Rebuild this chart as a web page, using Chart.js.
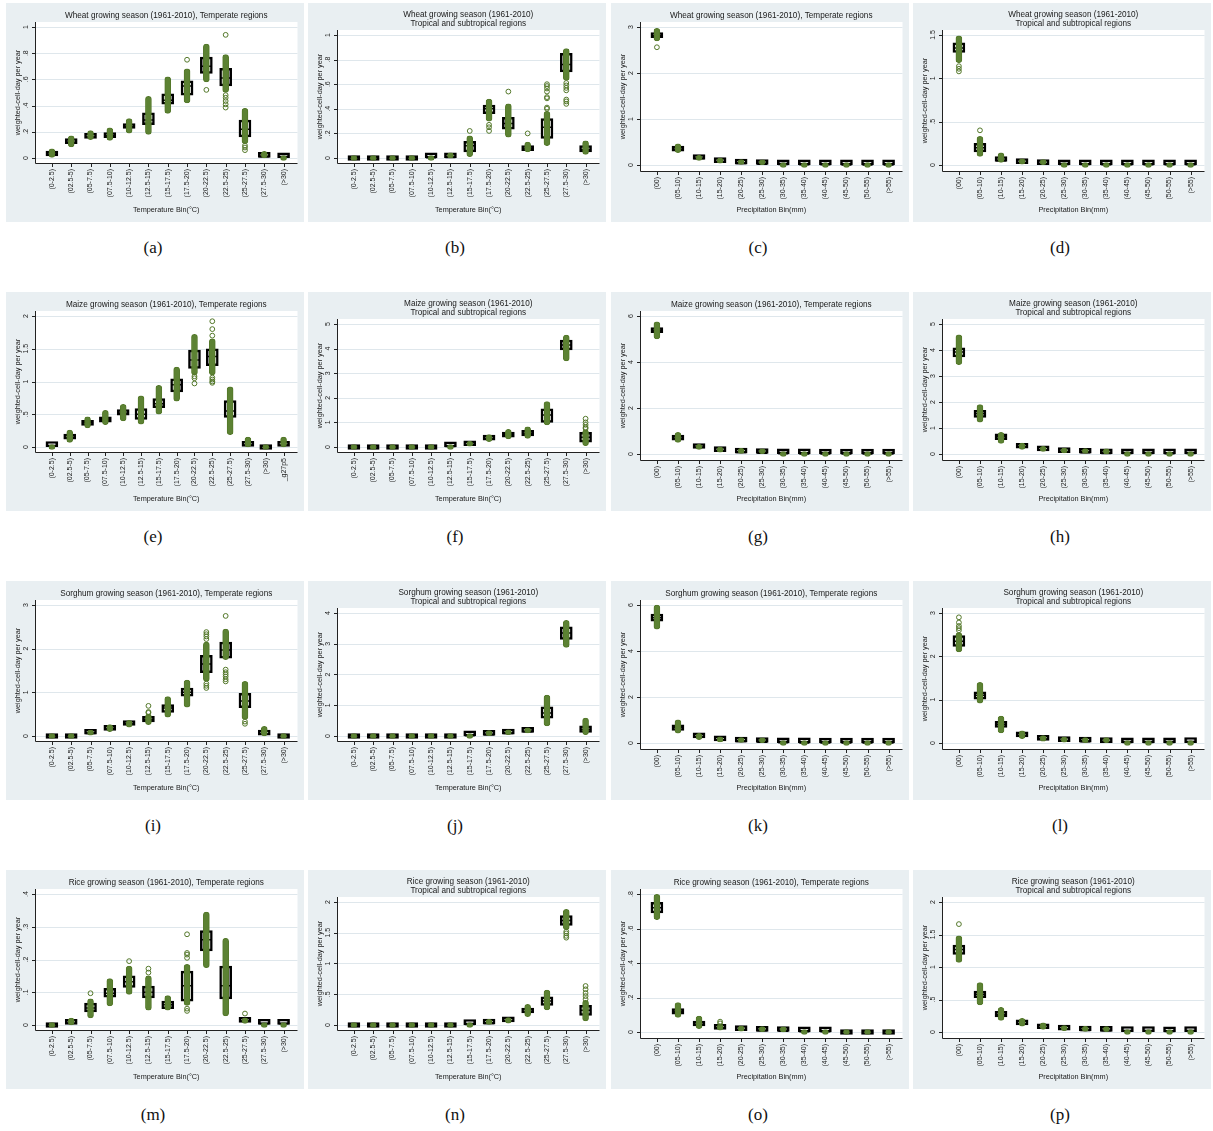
<!DOCTYPE html>
<html>
<head>
<meta charset="utf-8">
<title>Growing season bins</title>
<script src="https://cdn.jsdelivr.net/npm/chart.js@4.4.0/dist/chart.umd.min.js"></script>
<style>
  html, body { margin: 0; padding: 0; background: #fff; }
  #page { position: relative; width: 1213px; height: 1131px; overflow: hidden; }
  .panel { position: absolute; width: 298px; height: 219px; }
  .panel canvas { display: block; }
  .sub { position: absolute; width: 80px; margin-left: -40px; text-align: center;
         font: 17px "Liberation Serif", serif; color: #111; line-height: 20px; }
</style>
</head>
<body>
<div id="page"></div>
<script>
// bin labels
const tempBins = ['(0-2.5)', '(02.5-5)', '(05-7.5)', '(07.5-10)', '(10-12.5)', '(12.5-15)', '(15-17.5)',
  '(17.5-20)', '(20-22.5)', '(22.5-25)', '(25-27.5)', '(27.5-30)', '(>30)'];
const tempBinsMaize = ['(0-2.5)', '(02.5-5)', '(05-7.5)', '(07.5-10)', '(10-12.5)', '(12.5-15)', '(15-17.5)',
  '(17.5-20)', '(20-22.5)', '(22.5-25)', '(25-27.5)', '(27.5-30)', '(>30)', '_g27p5'];
const precipBins = ['(00)', '(05-10)', '(10-15)', '(15-20)', '(20-25)', '(25-30)', '(30-35)', '(35-40)',
  '(40-45)', '(45-50)', '(50-55)', '(>55)'];

// y tick labels
const ticksTo1 = ['0', '.2', '.4', '.6', '.8', '1'];
const ticksTo08 = ['0', '.2', '.4', '.6', '.8'];
const ticksTo04 = ['0', '.1', '.2', '.3', '.4'];
const ticksTo15 = ['0', '.5', '1', '1.5'];
const ticksTo2 = ['0', '.5', '1', '1.5', '2'];
const ticksTo3 = ['0', '1', '2', '3'];
const ticksTo4 = ['0', '1', '2', '3', '4'];
const ticksTo5 = ['0', '1', '2', '3', '4', '5'];
const ticksTo6 = ['0', '2', '4', '6'];

// wheat, temperature bins, temperate
const wheatTempTeQ1 = [.015, .11, .15, .155, .225, .255, .41, .48, .645, .55, .16, .005, .002];
const wheatTempTeQ3 = [.04, .135, .17, .19, .26, .345, .49, .59, .77, .685, .29, .02, .008];
const wheatTempTeMed = [.03, .12, .16, .17, .24, .29, .44, .55, .70, .61, .22, .01, .005];
const wheatTempTeLo = [.005, .085, .14, .135, .19, .18, .34, .42, .58, .50, .11, 0, 0];
const wheatTempTeHi = [.07, .17, .21, .23, .30, .47, .62, .68, .87, .79, .38, .05, .01];
const wheatTempTeOut = [[7, .75], [8, .52], [9, .94], [9, .385], [9, .41], [9, .435], [9, .46], [9, .48],
  [10, .06], [10, .08], [10, .095]];

// wheat, temperature bins, tropical
const wheatTempTrQ1 = [0, 0, 0, 0, .001, .002, .05, .36, .235, .06, .16, .70, .05];
const wheatTempTrQ3 = [.005, .005, .005, .005, .006, .01, .135, .43, .33, .09, .32, .85, .10];
const wheatTempTrMed = [.002, .002, .002, .002, .003, .005, .10, .40, .28, .08, .25, .76, .07];
const wheatTempTrLo = [0, 0, 0, 0, 0, .001, .01, .30, .17, .05, .10, .63, .03];
const wheatTempTrHi = [.005, .005, .005, .005, .007, .015, .18, .48, .44, .13, .38, .89, .14];
const wheatTempTrOut = [[6, .22], [7, .22], [7, .25], [7, .27], [8, .54], [9, .20], [10, .40], [10, .41],
  [10, .485], [10, .495], [10, .54], [10, .565], [10, .585], [10, .60], [11, .44], [11, .46], [11, .475],
  [11, .55], [11, .57], [11, .59], [11, .61]];

// wheat, precipitation bins, temperate
const wheatPrecTeQ1 = [2.77, .30, .12, .05, .02, .01, .005, .002, .001, .001, .001, .001];
const wheatPrecTeQ3 = [2.855, .40, .16, .08, .04, .02, .015, .008, .005, .004, .004, .004];
const wheatPrecTeMed = [2.81, .35, .14, .065, .03, .015, .01, .005, .003, .002, .002, .002];
const wheatPrecTeLo = [2.70, .27, .10, .04, .01, .005, 0, 0, 0, 0, 0, 0];
const wheatPrecTeHi = [2.97, .46, .19, .10, .05, .03, .02, .01, .008, .006, .005, .005];
const wheatPrecTeOut = [[0, 2.56]];

// wheat, precipitation bins, tropical
const wheatPrecTrQ1 = [1.30, .15, .04, .015, .005, .003, .002, .001, .001, .001, .001, .001];
const wheatPrecTrQ3 = [1.41, .25, .07, .03, .015, .01, .008, .005, .004, .004, .003, .003];
const wheatPrecTrMed = [1.35, .20, .05, .02, .01, .006, .005, .003, .002, .002, .002, .002];
const wheatPrecTrLo = [1.18, .10, .03, .01, .005, 0, 0, 0, 0, 0, 0, 0];
const wheatPrecTrHi = [1.49, .33, .14, .07, .03, .02, .015, .01, .008, .006, .006, .006];
const wheatPrecTrOut = [[0, 1.08], [0, 1.11], [0, 1.14], [1, .40]];

// maize, temperature bins, temperate
const maizeTempTeQ1 = [.005, .12, .33, .38, .485, .42, .60, .84, 1.20, 1.24, .45, .01, 0, .01];
const maizeTempTeQ3 = [.035, .18, .40, .46, .57, .585, .74, 1.04, 1.48, 1.50, .71, .05, .02, .05];
const maizeTempTeMed = [.02, .15, .37, .42, .52, .50, .66, .95, 1.33, 1.38, .55, .03, .01, .03];
const maizeTempTeLo = [0, .07, .29, .34, .40, .35, .50, .70, 1.10, 1.10, .19, 0, 0, 0];
const maizeTempTeHi = [.07, .26, .46, .56, .65, .78, .94, 1.22, 1.72, 1.65, .92, .15, .03, .15];
const maizeTempTeOut = [[8, .97], [8, 1.05], [8, 1.08], [9, .98], [9, 1.0], [9, 1.03], [9, 1.06],
  [9, 1.70], [9, 1.80], [9, 1.92]];

// maize, temperature bins, tropical
const maizeTempTrQ1 = [0, 0, 0, 0, 0, .002, .05, .28, .40, .45, 1.00, 3.95, .20];
const maizeTempTrQ3 = [.01, .01, .01, .01, .01, .04, .12, .42, .60, .68, 1.55, 4.35, .60];
const maizeTempTrMed = [.005, .005, .005, .005, .005, .02, .08, .36, .50, .56, 1.30, 4.15, .40];
const maizeTempTrLo = [0, 0, 0, 0, 0, 0, .03, .22, .33, .35, .90, 3.50, .05];
const maizeTempTrHi = [.02, .02, .02, .02, .02, .06, .18, .50, .72, .82, 1.85, 4.55, .70];
const maizeTempTrOut = [[12, .75], [12, .80], [12, .90], [12, 1.0], [12, 1.15]];

// maize, precipitation bins, temperate
const maizePrecTeQ1 = [5.28, .60, .24, .10, .04, .02, .01, .002, .001, .001, .001, .001];
const maizePrecTeQ3 = [5.49, .80, .33, .17, .08, .04, .02, .01, .006, .005, .004, .004];
const maizePrecTeMed = [5.38, .70, .29, .13, .06, .03, .015, .005, .003, .003, .002, .002];
const maizePrecTeLo = [5.00, .50, .20, .08, .03, .01, 0, 0, 0, 0, 0, 0];
const maizePrecTeHi = [5.75, .94, .38, .20, .10, .05, .03, .015, .01, .008, .006, .006];
const maizePrecTeOut = [];

// maize, precipitation bins, tropical
const maizePrecTrQ1 = [3.73, 1.41, .55, .22, .12, .05, .03, .01, .01, .01, .005, .01];
const maizePrecTrQ3 = [4.08, 1.68, .78, .36, .20, .11, .07, .03, .025, .02, .015, .02];
const maizePrecTrMed = [3.92, 1.55, .66, .29, .16, .08, .05, .02, .015, .015, .01, .015];
const maizePrecTrLo = [3.44, 1.22, .41, .18, .10, .04, .02, .005, 0, 0, 0, 0];
const maizePrecTrHi = [4.58, 1.90, .83, .42, .24, .14, .10, .05, .04, .03, .03, .03];
const maizePrecTrOut = [];

// sorghum, temperature bins, temperate
const sorghumTempTeQ1 = [0, 0, .04, .13, .24, .32, .54, .91, 1.45, 1.78, .65, .02, 0];
const sorghumTempTeQ3 = [.01, .02, .09, .21, .32, .45, .72, 1.10, 1.85, 2.15, .98, .08, .01];
const sorghumTempTeMed = [.005, .01, .06, .17, .28, .38, .64, 1.0, 1.65, 1.97, .80, .05, .005];
const sorghumTempTeLo = [0, 0, .02, .10, .20, .26, .43, .66, 1.25, 1.75, .38, 0, 0];
const sorghumTempTeHi = [.02, .03, .13, .26, .36, .50, .90, 1.28, 2.15, 2.45, 1.25, .22, .02];
const sorghumTempTeOut = [[5, .53], [5, .55], [5, .69], [8, 1.10], [8, 1.15], [8, 1.20], [8, 2.22],
  [8, 2.28], [8, 2.33], [8, 2.38], [9, 1.25], [9, 1.30], [9, 1.36], [9, 1.41], [9, 1.46], [9, 1.52],
  [9, 2.75], [10, .28], [10, .33]];

// sorghum, temperature bins, tropical
const sorghumTempTrQ1 = [0, 0, 0, 0, 0, 0, .002, .02, .06, .12, .58, 3.14, .12];
const sorghumTempTrQ3 = [.01, .01, .01, .01, .01, .01, .02, .05, .10, .16, .95, 3.55, .33];
const sorghumTempTrMed = [.005, .005, .005, .005, .005, .005, .01, .04, .08, .14, .75, 3.35, .22];
const sorghumTempTrLo = [0, 0, 0, 0, 0, 0, 0, .01, .04, .10, .33, 2.88, .04];
const sorghumTempTrHi = [.01, .01, .01, .01, .01, .015, .03, .07, .13, .18, 1.33, 3.76, .58];
const sorghumTempTrOut = [];

// sorghum, precipitation bins, temperate
const sorghumPrecTeQ1 = [5.30, .55, .22, .09, .04, .02, .01, .002, .001, .001, .001, .001];
const sorghumPrecTeQ3 = [5.60, .79, .35, .17, .08, .04, .02, .01, .006, .005, .004, .004];
const sorghumPrecTeMed = [5.45, .68, .28, .13, .06, .03, .015, .005, .003, .003, .002, .002];
const sorghumPrecTeLo = [4.95, .43, .15, .05, .02, .01, 0, 0, 0, 0, 0, 0];
const sorghumPrecTeHi = [6.0, 1.01, .42, .22, .11, .07, .04, .03, .01, .008, .006, .006];
const sorghumPrecTeOut = [];

// sorghum, precipitation bins, tropical
const sorghumPrecTrQ1 = [2.23, 1.01, .36, .14, .06, .03, .02, .01, .005, .005, .005, .01];
const sorghumPrecTrQ3 = [2.48, 1.18, .50, .23, .12, .08, .05, .03, .02, .02, .02, .03];
const sorghumPrecTrMed = [2.35, 1.10, .43, .18, .09, .05, .03, .02, .01, .01, .01, .02];
const sorghumPrecTrLo = [2.10, .92, .23, .10, .04, .02, .01, .01, 0, 0, 0, 0];
const sorghumPrecTrHi = [2.55, 1.40, .62, .28, .17, .11, .07, .05, .04, .04, .04, .06];
const sorghumPrecTrOut = [[0, 2.60], [0, 2.65], [0, 2.70], [0, 2.78], [0, 2.90]];

// rice, temperature bins, temperate
const riceTempTeQ1 = [0, .002, .040, .085, .115, .083, .050, .073, .226, .080, .008, .002, .002];
const riceTempTeQ3 = [.002, .010, .067, .112, .150, .119, .073, .165, .288, .180, .016, .006, .006];
const riceTempTeMed = [.001, .005, .052, .097, .132, .100, .062, .120, .260, .120, .012, .004, .004];
const riceTempTeLo = [0, 0, .022, .058, .093, .045, .045, .060, .175, .028, .005, 0, 0];
const riceTempTeHi = [.003, .021, .080, .142, .180, .150, .090, .185, .345, .265, .022, .008, .008];
const riceTempTeOut = [[2, .097], [4, .195], [5, .16], [5, .172], [7, .043], [7, .05], [7, .205],
  [7, .215], [7, .22], [7, .277], [10, .035]];

// rice, temperature bins, tropical
const riceTempTrQ1 = [0, 0, 0, 0, 0, 0, .005, .015, .05, .195, .32, 1.62, .157];
const riceTempTrQ3 = [.005, .005, .005, .005, .005, .008, .015, .04, .09, .265, .46, 1.78, .32];
const riceTempTrMed = [.002, .002, .002, .002, .002, .004, .01, .025, .07, .22, .39, 1.70, .24];
const riceTempTrLo = [0, 0, 0, 0, 0, 0, 0, .01, .03, .136, .244, 1.55, .065];
const riceTempTrHi = [.005, .005, .005, .005, .005, .01, .03, .06, .12, .336, .569, 1.88, .40];
const riceTempTrOut = [[11, 1.42], [11, 1.45], [11, 1.49], [11, 1.52], [12, .42], [12, .47], [12, .52],
  [12, .58], [12, .634]];

// rice, precipitation bins, temperate
const ricePrecTeQ1 = [.69, .103, .035, .015, .008, .004, .003, .001, .001, 0, 0, 0];
const ricePrecTeQ3 = [.752, .136, .058, .035, .02, .01, .008, .004, .004, .003, .003, .003];
const ricePrecTeMed = [.72, .12, .045, .025, .013, .007, .005, .002, .002, .001, .001, .001];
const ricePrecTeLo = [.651, .085, .02, .01, .005, .002, .001, 0, 0, 0, 0, 0];
const ricePrecTeHi = [.798, .17, .093, .045, .032, .025, .02, .012, .01, .006, .006, .006];
const ricePrecTeOut = [[3, .05], [3, .06]];

// rice, precipitation bins, tropical
const ricePrecTrQ1 = [1.195, .528, .231, .11, .05, .03, .015, .01, .005, .005, .003, .005];
const ricePrecTrQ3 = [1.338, .63, .318, .16, .10, .06, .035, .025, .02, .015, .01, .015];
const ricePrecTrMed = [1.27, .58, .27, .13, .07, .045, .025, .018, .012, .01, .006, .01];
const ricePrecTrLo = [1.07, .415, .18, .09, .04, .02, .01, .005, 0, 0, 0, 0];
const ricePrecTrHi = [1.48, .76, .38, .21, .14, .09, .06, .05, .04, .03, .03, .03];
const ricePrecTrOut = [[0, 1.66]];

const tempAxis = 'Temperature Bin(\u00B0C)';
const precAxis = 'Precipitation Bin(mm)';
const yAxisTitle = 'weighted-cell-day per year';
const temperate = crop => [crop + ' growing season (1961-2010), Temperate regions'];
const tropical = crop => [crop + ' growing season (1961-2010)', 'Tropical and subtropical regions'];

const panels = [
  { tag: '(a)', title: temperate('Wheat'), bins: tempBins, axis: tempAxis, ticks: ticksTo1,
    q1: wheatTempTeQ1, q3: wheatTempTeQ3, med: wheatTempTeMed, lo: wheatTempTeLo, hi: wheatTempTeHi, out: wheatTempTeOut },
  { tag: '(b)', title: tropical('Wheat'), bins: tempBins, axis: tempAxis, ticks: ticksTo1,
    q1: wheatTempTrQ1, q3: wheatTempTrQ3, med: wheatTempTrMed, lo: wheatTempTrLo, hi: wheatTempTrHi, out: wheatTempTrOut },
  { tag: '(c)', title: temperate('Wheat'), bins: precipBins, axis: precAxis, ticks: ticksTo3,
    q1: wheatPrecTeQ1, q3: wheatPrecTeQ3, med: wheatPrecTeMed, lo: wheatPrecTeLo, hi: wheatPrecTeHi, out: wheatPrecTeOut },
  { tag: '(d)', title: tropical('Wheat'), bins: precipBins, axis: precAxis, ticks: ticksTo15,
    q1: wheatPrecTrQ1, q3: wheatPrecTrQ3, med: wheatPrecTrMed, lo: wheatPrecTrLo, hi: wheatPrecTrHi, out: wheatPrecTrOut },
  { tag: '(e)', title: temperate('Maize'), bins: tempBinsMaize, axis: tempAxis, ticks: ticksTo2,
    q1: maizeTempTeQ1, q3: maizeTempTeQ3, med: maizeTempTeMed, lo: maizeTempTeLo, hi: maizeTempTeHi, out: maizeTempTeOut },
  { tag: '(f)', title: tropical('Maize'), bins: tempBins, axis: tempAxis, ticks: ticksTo5,
    q1: maizeTempTrQ1, q3: maizeTempTrQ3, med: maizeTempTrMed, lo: maizeTempTrLo, hi: maizeTempTrHi, out: maizeTempTrOut },
  { tag: '(g)', title: temperate('Maize'), bins: precipBins, axis: precAxis, ticks: ticksTo6,
    q1: maizePrecTeQ1, q3: maizePrecTeQ3, med: maizePrecTeMed, lo: maizePrecTeLo, hi: maizePrecTeHi, out: maizePrecTeOut },
  { tag: '(h)', title: tropical('Maize'), bins: precipBins, axis: precAxis, ticks: ticksTo5,
    q1: maizePrecTrQ1, q3: maizePrecTrQ3, med: maizePrecTrMed, lo: maizePrecTrLo, hi: maizePrecTrHi, out: maizePrecTrOut },
  { tag: '(i)', title: temperate('Sorghum'), bins: tempBins, axis: tempAxis, ticks: ticksTo3,
    q1: sorghumTempTeQ1, q3: sorghumTempTeQ3, med: sorghumTempTeMed, lo: sorghumTempTeLo, hi: sorghumTempTeHi, out: sorghumTempTeOut },
  { tag: '(j)', title: tropical('Sorghum'), bins: tempBins, axis: tempAxis, ticks: ticksTo4,
    q1: sorghumTempTrQ1, q3: sorghumTempTrQ3, med: sorghumTempTrMed, lo: sorghumTempTrLo, hi: sorghumTempTrHi, out: sorghumTempTrOut },
  { tag: '(k)', title: temperate('Sorghum'), bins: precipBins, axis: precAxis, ticks: ticksTo6,
    q1: sorghumPrecTeQ1, q3: sorghumPrecTeQ3, med: sorghumPrecTeMed, lo: sorghumPrecTeLo, hi: sorghumPrecTeHi, out: sorghumPrecTeOut },
  { tag: '(l)', title: tropical('Sorghum'), bins: precipBins, axis: precAxis, ticks: ticksTo3,
    q1: sorghumPrecTrQ1, q3: sorghumPrecTrQ3, med: sorghumPrecTrMed, lo: sorghumPrecTrLo, hi: sorghumPrecTrHi, out: sorghumPrecTrOut },
  { tag: '(m)', title: temperate('Rice'), bins: tempBins, axis: tempAxis, ticks: ticksTo04,
    q1: riceTempTeQ1, q3: riceTempTeQ3, med: riceTempTeMed, lo: riceTempTeLo, hi: riceTempTeHi, out: riceTempTeOut },
  { tag: '(n)', title: tropical('Rice'), bins: tempBins, axis: tempAxis, ticks: ticksTo2,
    q1: riceTempTrQ1, q3: riceTempTrQ3, med: riceTempTrMed, lo: riceTempTrLo, hi: riceTempTrHi, out: riceTempTrOut },
  { tag: '(o)', title: temperate('Rice'), bins: precipBins, axis: precAxis, ticks: ticksTo08,
    q1: ricePrecTeQ1, q3: ricePrecTeQ3, med: ricePrecTeMed, lo: ricePrecTeLo, hi: ricePrecTeHi, out: ricePrecTeOut },
  { tag: '(p)', title: tropical('Rice'), bins: precipBins, axis: precAxis, ticks: ticksTo2,
    q1: ricePrecTrQ1, q3: ricePrecTrQ3, med: ricePrecTrMed, lo: ricePrecTrLo, hi: ricePrecTrHi, out: ricePrecTrOut }
];

// page grid
const COL_X = [6, 308, 611, 913];
const ROW_Y = [3, 292, 581, 870];
const PANEL_W = 298, PANEL_H = 219;
const PLOT_L = 29, PLOT_R = 293;
const FIRST_BIN = 46, LAST_BIN = 279;

const PANEL_BG = '#e9eff2';
const GRID = '#dfe7ec';
const AXIS = '#222';
const TEXT = '#1a1a1a';
const GREEN = '#54782a';
const GREEN_FILL = '#5c8233';
const FONT = '"Liberation Sans", Arial, sans-serif';

Chart.defaults.font.family = FONT;

// background, grid, axes and all the Stata-style text around one panel
function framePlugin(p) {
  const tickVals = p.ticks.map(t => parseFloat(t));
  return {
    id: 'frame',
    beforeDraw(chart) {
      const { ctx, chartArea: ca, scales: { y } } = chart;
      ctx.save();
      ctx.fillStyle = PANEL_BG;
      ctx.fillRect(0, 0, chart.width, chart.height);
      ctx.fillStyle = '#fff';
      ctx.fillRect(ca.left, ca.top, ca.right - ca.left, ca.bottom - ca.top);
      ctx.strokeStyle = GRID;
      ctx.lineWidth = 1.2;
      tickVals.forEach(v => {
        const py = Math.round(y.getPixelForValue(v)) + 0.5;
        ctx.beginPath();
        ctx.moveTo(ca.left, py);
        ctx.lineTo(ca.right, py);
        ctx.stroke();
      });
      ctx.restore();
    },
    afterDraw(chart) {
      const { ctx, chartArea: ca, scales: { x, y } } = chart;
      const midX = (ca.left + ca.right) / 2;
      ctx.save();

      // axis lines and tick marks
      ctx.strokeStyle = AXIS;
      ctx.lineWidth = 1;
      ctx.beginPath();
      ctx.moveTo(ca.left + 0.5, ca.top);
      ctx.lineTo(ca.left + 0.5, ca.bottom + 0.5);
      ctx.lineTo(ca.right, ca.bottom + 0.5);
      tickVals.forEach(v => {
        const py = Math.round(y.getPixelForValue(v)) + 0.5;
        ctx.moveTo(ca.left - 3, py);
        ctx.lineTo(ca.left, py);
      });
      p.bins.forEach((b, i) => {
        const px = Math.round(x.getPixelForValue(i)) + 0.5;
        ctx.moveTo(px, ca.bottom);
        ctx.lineTo(px, ca.bottom + 4);
      });
      ctx.stroke();

      ctx.fillStyle = TEXT;

      // y tick labels, turned like the axis title
      ctx.font = '7px ' + FONT;
      ctx.textAlign = 'center';
      ctx.textBaseline = 'bottom';
      p.ticks.forEach((t, k) => {
        ctx.save();
        ctx.translate(ca.left - 5, y.getPixelForValue(tickVals[k]));
        ctx.rotate(-Math.PI / 2);
        ctx.fillText(t, 0, 0);
        ctx.restore();
      });

      // bin labels under the axis
      ctx.textAlign = 'right';
      ctx.textBaseline = 'middle';
      p.bins.forEach((b, i) => {
        ctx.save();
        ctx.translate(x.getPixelForValue(i), ca.bottom + 6);
        ctx.rotate(-Math.PI / 2);
        ctx.fillText(b, 0, 0);
        ctx.restore();
      });

      // axis titles
      ctx.font = '7.3px ' + FONT;
      ctx.textAlign = 'center';
      ctx.textBaseline = 'middle';
      ctx.save();
      ctx.translate(12, (ca.top + ca.bottom) / 2);
      ctx.rotate(-Math.PI / 2);
      ctx.fillText(yAxisTitle, 0, 0);
      ctx.restore();
      ctx.fillText(p.axis, midX, 207);

      // panel title
      ctx.font = '8.2px ' + FONT;
      if (p.title.length > 1) {
        ctx.fillText(p.title[0], midX, 12);
        ctx.fillText(p.title[1], midX, 21);
      } else {
        ctx.fillText(p.title[0], midX, 12.7);
      }
      ctx.restore();
    }
  };
}

const page = document.getElementById('page');

panels.forEach((p, k) => {
  const left = COL_X[k % 4];
  const top = ROW_Y[Math.floor(k / 4)];

  const box = document.createElement('div');
  box.className = 'panel';
  box.style.left = left + 'px';
  box.style.top = top + 'px';
  const cv = document.createElement('canvas');
  cv.width = PANEL_W;
  cv.height = PANEL_H;
  box.appendChild(cv);
  page.appendChild(box);

  const sub = document.createElement('div');
  sub.className = 'sub';
  sub.textContent = p.tag;
  sub.style.left = (left + 147) + 'px';
  sub.style.top = (top + 235) + 'px';
  page.appendChild(sub);

  // x runs over bin positions 0..n-1 with Stata-like margins on both sides
  const n = p.bins.length;
  const step = (LAST_BIN - FIRST_BIN) / (n - 1);
  const xMin = -(FIRST_BIN - PLOT_L) / step;
  const xMax = (n - 1) + (PLOT_R - LAST_BIN) / step;

  // y runs from 0 to the top tick, with a few pixels of air at each end
  const isPrecip = p.bins === precipBins;
  const plotTop = p.title.length > 1 ? 27 : 19;
  const plotBottom = isPrecip ? 168 : 160;
  const padBottom = isPrecip ? 6 : 5;
  const yTop = parseFloat(p.ticks[p.ticks.length - 1]);
  const unit = (plotBottom - plotTop - 5 - padBottom) / yTop;
  const yMin = -padBottom / unit;
  const yMax = yTop + 5 / unit;

  new Chart(cv, {
    type: 'bar',
    data: {
      datasets: [
        {
          // interquartile boxes
          type: 'bar',
          data: p.bins.map((b, i) => ({ x: i, y: [p.q1[i], p.q3[i]] })),
          backgroundColor: '#ffffff',
          borderColor: '#000000',
          borderWidth: 2.5,
          borderSkipped: false,
          barThickness: 12,
          minBarLength: 5,
          grouped: false,
          order: 4
        },
        {
          // medians
          type: 'scatter',
          data: p.bins.map((b, i) => ({ x: i, y: p.med[i] })),
          pointStyle: 'line',
          pointRadius: 5,
          pointBorderWidth: 1.5,
          pointBorderColor: '#000000',
          order: 3
        },
        {
          // dense run of yearly values in each bin
          type: 'bar',
          data: p.bins.map((b, i) => ({ x: i, y: [p.lo[i], p.hi[i]] })),
          backgroundColor: GREEN_FILL,
          borderColor: GREEN,
          borderWidth: 1,
          borderSkipped: false,
          borderRadius: 3,
          barThickness: 6,
          minBarLength: 5,
          grouped: false,
          order: 2
        },
        {
          // isolated yearly values
          type: 'scatter',
          data: p.out.map(([i, v]) => ({ x: i, y: v })),
          pointStyle: 'circle',
          pointRadius: 2.4,
          pointBorderWidth: 1,
          pointBorderColor: GREEN,
          pointBackgroundColor: 'rgba(255,255,255,0)',
          order: 1
        }
      ]
    },
    options: {
      responsive: false,
      animation: false,
      devicePixelRatio: 1,
      events: [],
      layout: {
        padding: { left: PLOT_L, right: PANEL_W - PLOT_R, top: plotTop, bottom: PANEL_H - plotBottom }
      },
      plugins: {
        legend: { display: false },
        tooltip: { enabled: false }
      },
      scales: {
        x: { type: 'linear', display: false, offset: false, min: xMin, max: xMax },
        y: { type: 'linear', display: false, min: yMin, max: yMax }
      }
    },
    plugins: [framePlugin(p)]
  });
});
</script>
</body>
</html>
